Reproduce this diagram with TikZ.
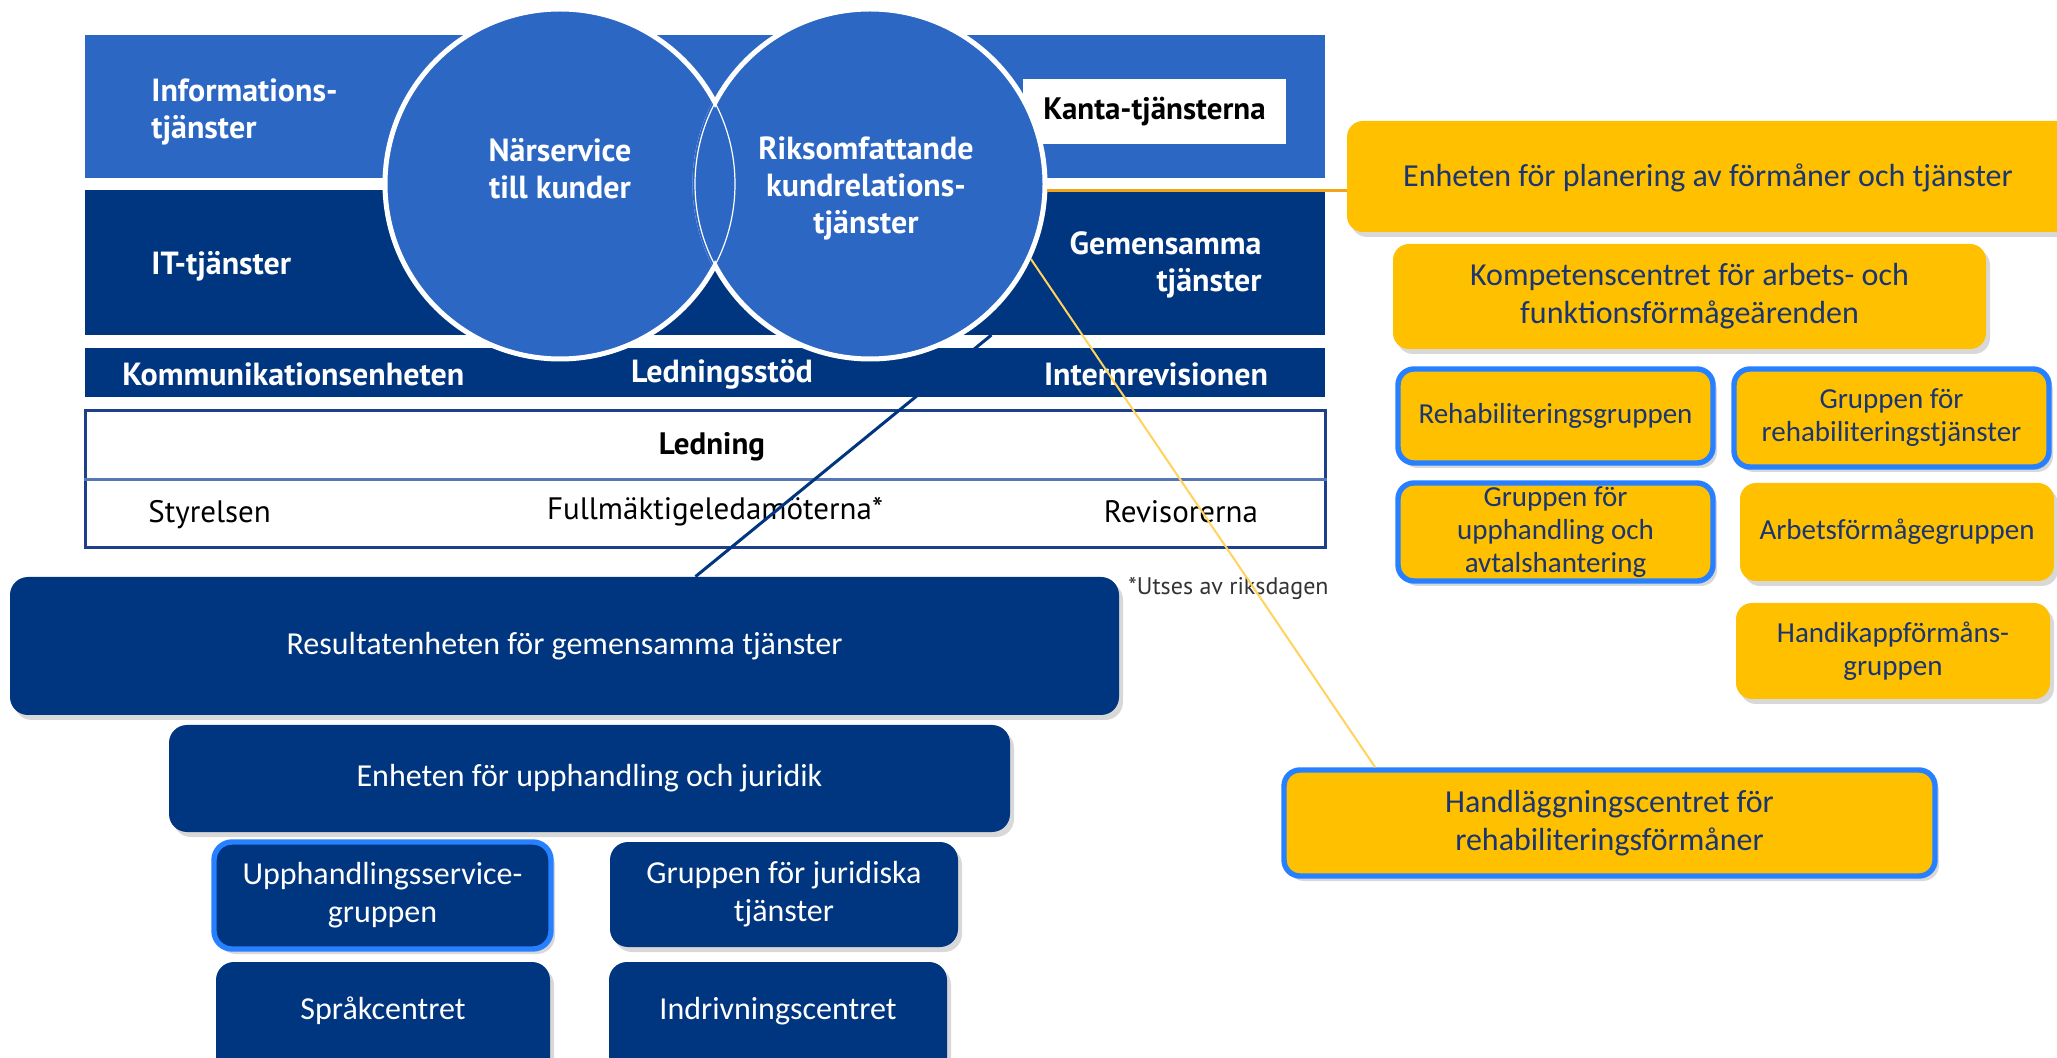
\documentclass[tikz,border=0pt]{standalone}
\usepackage{fontspec}
\setmainfont{Carlito}
\newfontfamily\topfont{PT Sans}
\newfontfamily\boxfont{Carlito}
\usetikzlibrary{shadows,calc}
\definecolor{bandlight}{HTML}{2C67C4}
\definecolor{banddark}{HTML}{003580}
\definecolor{ornfill}{HTML}{FFC000}
\definecolor{orntext}{HTML}{1A3570}
\definecolor{brdblue}{HTML}{2680FF}
\definecolor{orline}{HTML}{F2A51A}
\definecolor{ylline}{HTML}{FFD35C}
\definecolor{tblblue}{HTML}{1D3F8C}
\definecolor{tblline}{HTML}{5577B8}
\begin{document}
\begin{tikzpicture}[x=0.5pt,y=-0.5pt,
  bandbox/.style={draw=none, inner sep=0pt, outer sep=0pt},
  bandtxt/.style={text=white, font=\topfont\bfseries\fontsize{16}{18.5}\selectfont, inner sep=0pt, align=left},
  tbltxt/.style={text=black, font=\topfont\fontsize{15.5}{18}\selectfont, inner sep=0pt},
  shad/.style={drop shadow={opacity=0.3, shadow xshift=2pt, shadow yshift=-2.5pt}},
  darkbox/.style={fill=banddark, rounded corners=9pt, text=white, font=\boxfont\fontsize{16}{19}\selectfont, align=center, shad, inner sep=0pt},
  ornbox/.style={fill=ornfill, rounded corners=8pt, text=orntext, font=\boxfont\fontsize{14.5}{16.5}\selectfont, align=center, shad, inner sep=0pt},
  bigorn/.style={ornbox, font=\boxfont\fontsize{16}{19}\selectfont},
  brd/.style={draw=brdblue, line width=2.7pt},
  darktxt/.style={text=white, font=\boxfont\fontsize{16}{19}\selectfont, align=center, inner sep=0pt},
  orntxt/.style={text=orntext, font=\boxfont\fontsize{16}{19}\selectfont, align=center, inner sep=0pt},
  circ/.style={circle, minimum size=175pt, fill=bandlight, draw=white, line width=2.5pt, inner sep=0pt}
]
\useasboundingbox (0,0) rectangle (2057,1058);
\fill[white] (0,0) rectangle (2057,1058);
\clip (0,0) rectangle (2057,1058);

% bands
\node[bandbox, fill=bandlight, minimum width=620pt, minimum height=71.5pt] (b1) at (705,106.5) {};
\node[bandbox, fill=banddark, minimum width=620pt, minimum height=72.5pt] (b2) at (705,262.5) {};
\node[bandbox, fill=banddark, minimum width=620pt, minimum height=24.5pt] (b3) at (705,372.5) {};
\node[fill=white, minimum width=131.5pt, minimum height=32.5pt, inner sep=0pt, text=black, font=\topfont\bfseries\fontsize{15.5}{18}\selectfont] (kanta) at (1154.5,111.5) {Kanta-tjänsterna};

% circles
\node[circ] (LC) at (560,184) {};
\node[circ] (RC) at (870,184) {};
\begin{scope}
  \clip (LC) circle (172.5);
  \fill[bandlight] (RC) circle (177.5);
\end{scope}
\begin{scope}
  \clip (LC) circle (176);
  \clip (RC) circle (176);
  \draw[white, line width=0.6pt] (LC) circle (175) (RC) circle (175);
\end{scope}

% band texts
\node[bandtxt, anchor=west] (tinfo) at (151,112) {Informations-\\tjänster};
\node[bandtxt, anchor=west] (tit) at (151,266) {IT-tjänster};
\node[bandtxt, align=center] (tnar) at (560,169) {Närservice\\till kunder};
\node[bandtxt, align=center] (trik) at (866,188) {Riksomfattande\\kundrelations-\\tjänster};
\node[bandtxt, align=right, anchor=east] (tgem) at (1262,265) {Gemensamma\\tjänster};
\node[bandtxt, anchor=west] (tkom) at (122,374) {Kommunikationsenheten};
\node[bandtxt] (tled) at (722,374) {Ledningsstöd};
\node[bandtxt] (tint) at (1156,374) {Internrevisionen};

% table
\node[draw=tblblue, line width=1.5pt, minimum width=620pt, minimum height=68.5pt, inner sep=0pt] (tbl) at (705,479.5) {};
\draw[tblline, line width=1.2pt] (tbl.west) -- (tbl.east);
\node[tbltxt, font=\topfont\bfseries\fontsize{15.5}{18}\selectfont] (tledn) at (712,447) {Ledning};
\node[tbltxt, anchor=west] (tsty) at (148,515) {Styrelsen};
\node[tbltxt] (tfull) at (715,512) {Fullmäktigeledamöterna*};
\node[tbltxt] (trev) at (1181,512) {Revisorerna};
\node[tbltxt, anchor=east, font=\topfont\fontsize{12}{14}\selectfont, text=black!80] (tuts) at (1329,588) {*Utses av riksdagen};

% lower dark boxes
\node[darkbox, minimum width=554.5pt, minimum height=69pt] (res) at (564.5,646) {Resultatenheten för gemensamma tjänster};
\node[darkbox, minimum width=420.5pt, minimum height=53.5pt] (enh) at (589.5,778.5) {Enheten för upphandling och juridik};
\node[darkbox, brd, minimum width=168.5pt, minimum height=53.5pt] (upp) at (382.5,895.5) {Upphandlingsservice-\\gruppen};
\node[darkbox, minimum width=174pt, minimum height=52.5pt] (jur) at (784,894.5) {Gruppen för juridiska\\tjänster};
\node[darkbox, minimum width=167pt, minimum height=62pt] (spr) at (383,1024) {};
\node[darktxt] (sprt) at (383,1011) {Språkcentret};
\node[darkbox, minimum width=169pt, minimum height=62pt] (ind) at (778,1024) {};
\node[darktxt] (indt) at (778,1011) {Indrivningscentret};

% orange boxes
\node[bigorn, minimum width=364pt, minimum height=55.5pt] (plan) at (1711,176.5) {};
\node[orntxt] (plant) at (1708,178) {Enheten för planering av förmåner och tjänster};
\node[bigorn, minimum width=296.5pt, minimum height=52.5pt] (komp) at (1689.5,296.5) {Kompetenscentret för arbets- och\\funktionsförmågeärenden};
\node[ornbox, brd, minimum width=157.5pt, minimum height=47pt] (rehab) at (1555.5,416) {Rehabiliteringsgruppen};
\node[ornbox, brd, minimum width=157.5pt, minimum height=49pt] (grehab) at (1891.5,418) {Gruppen för\\rehabiliteringstjänster};
\node[ornbox, brd, minimum width=157.5pt, minimum height=49pt] (gupp) at (1555.5,532) {Gruppen för\\upphandling och\\avtalshantering};
\node[ornbox, minimum width=157pt, minimum height=49pt] (arb) at (1897,532) {Arbetsförmågegruppen};
\node[ornbox, minimum width=157pt, minimum height=48pt] (handi) at (1893,651) {Handikappförmåns-\\gruppen};
\node[bigorn, brd, minimum width=325.5pt, minimum height=53pt] (handl) at (1609.5,823) {Handläggningscentret för\\rehabiliteringsförmåner};

% connectors
\draw[banddark, line width=1.5pt] ($(b2.south west)!0.731!(b2.south east)$) -- ($(res.north west)!0.618!(res.north east)$);
\draw[orline, line width=1.5pt] (RC.-2.6) -- (RC.-2.6 -| plan.west);
\draw[ylline, line width=1pt] (RC.-25) -- ($(handl.north west)!0.143!(handl.north east)$);
\end{tikzpicture}
\end{document}
